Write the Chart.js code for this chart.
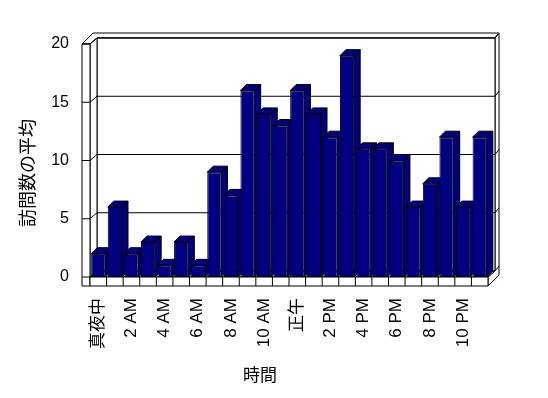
<!DOCTYPE html>
<html>
<head>
<meta charset="utf-8">
<script src="https://cdn.jsdelivr.net/npm/chart.js@4.4.0/dist/chart.umd.min.js"></script>
<style>
    html, body { margin: 0; padding: 0; background: #fff; }
    canvas { display: block; }
</style>
</head>
<body>
<canvas id="visitsChart" width="548" height="398"></canvas>
<script>
// Hour categories (x axis)
const hours = ['真夜中', '1 AM', '2 AM', '3 AM', '4 AM', '5 AM', '6 AM', '7 AM', '8 AM', '9 AM', '10 AM', '11 AM',
               '正午', '1 PM', '2 PM', '3 PM', '4 PM', '5 PM', '6 PM', '7 PM', '8 PM', '9 PM', '10 PM', '11 PM'];
// Average number of visits per hour
const avgVisits = [2, 6, 2, 3, 1, 3, 1, 9, 7, 16, 14, 13, 16, 14, 12, 19, 11, 11, 10, 6, 8, 12, 6, 12];
// Value axis ticks
const yTicks = [0, 5, 10, 15, 20];
const xTitle = '時間';
const yTitle = '訪問数の平均';

const FONT = "'Liberation Sans', 'Noto Sans CJK JP', sans-serif";
const NAVY = '#000080';

// 3D look: depth offsets for the bars and the walls
const BAR_D = { dx: 6, dy: -6 };
const IN = { dx: 7, dy: -6 };
const OUT = { dx: 11, dy: -11 };
const FRONT = { dx: 0, dy: 0 };
const WALL_T = 8;
const FLOOR_T = 9;

function p(x, y, d) {
    return [x + d.dx, y + d.dy];
}

function poly(ctx, pts, fill) {
    ctx.beginPath();
    ctx.moveTo(pts[0][0], pts[0][1]);
    for (let i = 1; i < pts.length; i++) ctx.lineTo(pts[i][0], pts[i][1]);
    ctx.closePath();
    ctx.fillStyle = fill;
    ctx.fill();
    ctx.stroke();
}

function line(ctx, a, b) {
    ctx.beginPath();
    ctx.moveTo(a[0], a[1]);
    ctx.lineTo(b[0], b[1]);
    ctx.stroke();
}

const box3d = {
    id: 'box3d',
    beforeDatasetsDraw(chart) {
        const { ctx, chartArea: a, scales } = chart;
        const yScale = scales.y;
        const L = a.left, R = a.right;
        const T = yScale.getPixelForValue(yTicks[yTicks.length - 1]);
        const B = yScale.getPixelForValue(0);
        const LW = L - WALL_T;

        ctx.save();
        ctx.lineWidth = 1;
        ctx.strokeStyle = '#000';

        // top faces of walls
        poly(ctx, [p(LW, T, FRONT), p(L, T, FRONT), p(L, T, IN), p(R, T, IN), p(R, T, OUT), p(LW, T, OUT)], '#fff');
        // right side of back wall and floor
        poly(ctx, [p(R, T, IN), p(R, T, OUT), p(R, B + FLOOR_T, OUT), p(R, B + FLOOR_T, FRONT), p(R, B, FRONT), p(R, B, IN)], '#fff');
        // back wall face
        poly(ctx, [p(L, T, IN), p(R, T, IN), p(R, B, IN), p(L, B, IN)], '#fff');
        // floor top
        poly(ctx, [p(L, B, FRONT), p(R, B, FRONT), p(R, B, IN), p(L, B, IN)], '#fff');
        // inner face of left wall
        poly(ctx, [p(L, T, FRONT), p(L, T, IN), p(L, B, IN), p(L, B, FRONT)], '#fff');
        // front face of left wall
        poly(ctx, [[LW, T], [L, T], [L, B], [L, B + FLOOR_T], [LW, B + FLOOR_T]], '#fff');
        // front face of floor
        poly(ctx, [[L, B], [R, B], [R, B + FLOOR_T], [L, B + FLOOR_T]], '#fff');

        // gridlines: tick on wall front, diagonal on inner face, line on back wall, stub on right side
        yTicks.forEach(v => {
            const yv = yScale.getPixelForValue(v);
            line(ctx, [LW, yv], [L, yv]);
            line(ctx, p(L, yv, FRONT), p(L, yv, IN));
            line(ctx, p(L, yv, IN), p(R, yv, IN));
            line(ctx, p(R, yv, IN), p(R, yv, OUT));
        });

        // floor cell dividers
        const step = (R - L) / hours.length;
        for (let i = 1; i < hours.length; i++) {
            const xv = L + i * step;
            line(ctx, [xv, B], [xv, B + FLOOR_T]);
        }

        // side and top faces of the bars
        const meta = chart.getDatasetMeta(0);
        meta.data.forEach(bar => {
            const { x, y, base, width } = bar.getProps(['x', 'y', 'base', 'width'], true);
            const xl = x - width / 2, xr = x + width / 2;
            poly(ctx, [p(xr, y, FRONT), p(xr, y, BAR_D), p(xr, base, BAR_D), p(xr, base, FRONT)], NAVY);
            poly(ctx, [p(xl, y, FRONT), p(xl, y, BAR_D), p(xr, y, BAR_D), p(xr, y, FRONT)], NAVY);
        });
        ctx.restore();
    },
    afterDraw(chart) {
        const ctx = chart.ctx;
        ctx.save();
        ctx.fillStyle = '#000';
        ctx.textAlign = 'center';
        ctx.textBaseline = 'middle';
        ctx.font = '17px ' + FONT;
        ctx.fillText(xTitle, 260, 376);
        ctx.translate(29, 173);
        ctx.rotate(-Math.PI / 2);
        ctx.font = '18px ' + FONT;
        ctx.fillText(yTitle, 0, 0);
        ctx.restore();
    }
};

Chart.defaults.font.family = FONT;
Chart.defaults.color = '#000';

new Chart(document.getElementById('visitsChart'), {
    type: 'bar',
    data: {
        labels: hours,
        datasets: [{
            data: avgVisits,
            backgroundColor: NAVY,
            borderColor: '#000',
            borderWidth: 1,
            borderSkipped: false,
            barPercentage: 0.86,
            categoryPercentage: 1
        }]
    },
    options: {
        responsive: false,
        animation: false,
        layout: { padding: { left: 0, top: 44, right: 60, bottom: 0 } },
        plugins: {
            legend: { display: false },
            tooltip: { enabled: false }
        },
        scales: {
            x: {
                grid: { display: false, drawTicks: false },
                border: { display: false },
                afterFit: scale => { scale.height = 121; },
                ticks: {
                    autoSkip: false,
                    maxRotation: 90,
                    minRotation: 90,
                    padding: 21,
                    font: { size: 17 },
                    callback: (val, i) => i % 2 === 0 ? hours[i] : ''
                }
            },
            y: {
                min: 0,
                max: 20,
                grid: { display: false, drawTicks: false },
                border: { display: false },
                afterFit: scale => { scale.width = 90; },
                afterBuildTicks: scale => { scale.ticks = yTicks.map(v => ({ value: v })); },
                ticks: { padding: 21, font: { size: 16 } }
            }
        }
    },
    plugins: [box3d]
});
</script>
</body>
</html>
